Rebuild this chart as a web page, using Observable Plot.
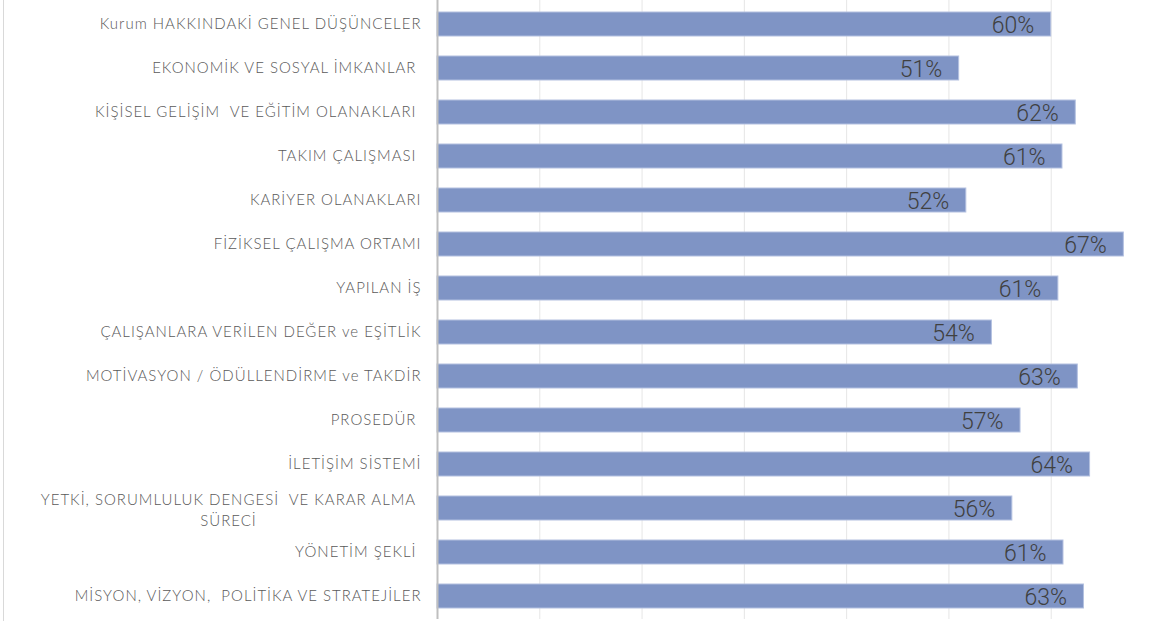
<!DOCTYPE html>
<html>
<head>
<meta charset="utf-8">
<script src="https://cdn.jsdelivr.net/npm/d3@7"></script>
<script src="https://cdn.jsdelivr.net/npm/@observablehq/plot@0.6"></script>
<style>
  html, body { margin: 0; padding: 0; background: #fff; }
  #chart { width: 1153px; height: 621px; position: relative; }
  #chart svg text { white-space: pre; }
  #chart svg .lbl text, #chart svg g[aria-label="y-axis tick label"] text { letter-spacing: 1px; }
  #border { position: absolute; left: 3px; top: 0; width: 1px; height: 621px; background: #d9d9d9; }
</style>
</head>
<body>
<div id="chart"><div id="border"></div></div>
<script>
const categories = [
  "Kurum HAKKINDAKİ GENEL DÜŞÜNCELER",
  "EKONOMİK VE SOSYAL İMKANLAR ",
  "KİŞİSEL GELİŞİM  VE EĞİTİM OLANAKLARI ",
  "TAKIM ÇALIŞMASI ",
  "KARİYER OLANAKLARI",
  "FİZİKSEL ÇALIŞMA ORTAMI",
  "YAPILAN İŞ",
  "ÇALIŞANLARA VERİLEN DEĞER ve EŞİTLİK",
  "MOTİVASYON / ÖDÜLLENDİRME ve TAKDİR",
  "PROSEDÜR ",
  "İLETİŞİM SİSTEMİ",
  "YETKİ, SORUMLULUK DENGESİ  VE KARAR ALMA\nSÜRECİ",
  "YÖNETİM ŞEKLİ ",
  "MİSYON, VİZYON,  POLİTİKA VE STRATEJİLER"
];
// bar lengths (percent)
const values = [60, 51, 62.4, 61.1, 51.7, 67.1, 60.7, 54.2, 62.6, 57, 63.8, 56.2, 61.2, 63.2];
// printed labels
const labels = ["60%", "51%", "62%", "61%", "52%", "67%", "61%", "54%", "63%", "57%", "64%", "56%", "61%", "63%"];
const xTicks = [0, 10, 20, 30, 40, 50, 60, 70];

const data = categories.map((c, i) => ({cat: c, v: values[i], lab: labels[i]}));
const wrapped = data.filter(d => d.cat.includes("\n"));

const plot = Plot.plot({
  width: 1153,
  height: 621,
  marginLeft: 437,
  marginRight: 0,
  marginTop: 0,
  marginBottom: 2,
  style: {fontFamily: "Lato, 'Noto Sans', sans-serif", background: "transparent"},
  x: {domain: [0, 70], axis: null},
  y: {domain: categories, paddingInner: 0.457, paddingOuter: 0.2285, axis: null},
  marks: [
    Plot.ruleX(xTicks, {stroke: "#e6e6e6", strokeWidth: 1}),
    Plot.barX(data, {x: "v", y: "cat", fill: "#7f94c5", stroke: "#b3c0e0", strokeWidth: 1}),
    Plot.ruleX([0], {stroke: "#bfbfbf", strokeWidth: 2}),
    Plot.axisY({
      label: null,
      tickSize: 0,
      tickPadding: 16,
      fontSize: 15,
      fontWeight: 300,
      tickFormat: d => d.includes("\n") ? "" : d,
      fill: "#595959"
    }),
    Plot.text(wrapped, {
      y: "cat",
      text: "cat",
      frameAnchor: "left",
      textAnchor: "middle",
      dx: -209,
      fontSize: 15,
      fontWeight: 300,
      lineHeight: 1.4,
      fill: "#595959",
      className: "lbl"
    }),
    Plot.text(data, {
      x: "v",
      y: "cat",
      text: "lab",
      textAnchor: "end",
      dx: -17,
      dy: 1,
      fontSize: 23,
      fill: "#404040",
      fontFamily: "Roboto, sans-serif",
      fontWeight: 300
    })
  ]
});
document.getElementById("chart").appendChild(plot);
</script>
</body>
</html>
